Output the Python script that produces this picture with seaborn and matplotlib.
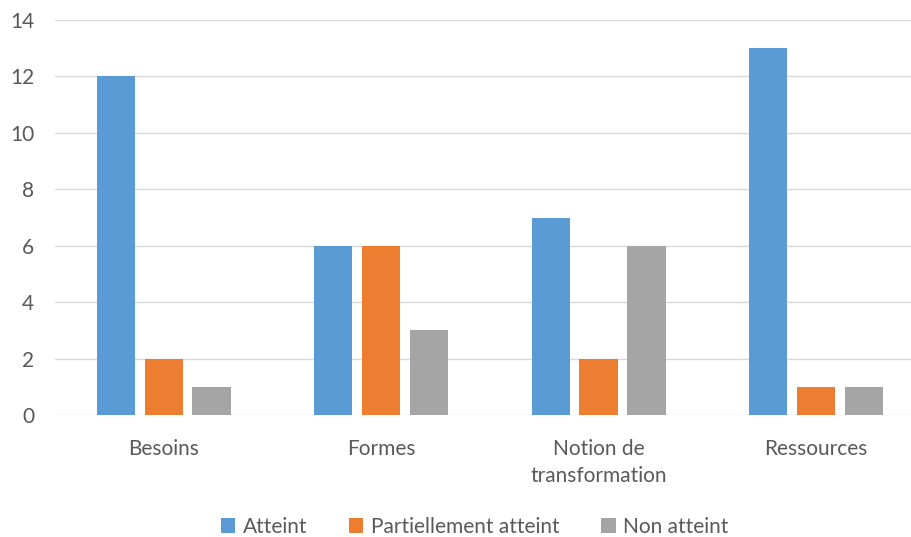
import pandas as pd
import matplotlib.pyplot as plt
import seaborn as sns

categories = ["Besoins", "Formes", "Notion de\ntransformation", "Ressources"]
atteint = [12, 6, 7, 13]
partiel = [2, 6, 2, 1]
non_atteint = [1, 3, 6, 1]
series = ["Atteint", "Partiellement atteint", "Non atteint"]
colors = ["#5B9BD5", "#ED7D31", "#A5A5A5"]

rows = []
for i, cat in enumerate(categories):
    for name, vals in zip(series, [atteint, partiel, non_atteint]):
        rows.append({"cat": cat, "serie": name, "val": vals[i]})
df = pd.DataFrame(rows)

sns.set_style("white")
plt.rcParams['font.family'] = ['Lato', 'DejaVu Sans']

fig = plt.figure(figsize=(9.11, 5.37), dpi=100)
ax = fig.add_axes([55 / 911, 1 - 415 / 537, 856 / 911, 395 / 537])

sns.barplot(data=df, x="cat", y="val", hue="serie", palette=colors,
            width=0.66, gap=0.2, saturation=1, linewidth=0, ax=ax)

ax.set_xlim(-0.5, 3.437)
ax.set_ylim(0, 14)
ax.set_yticks(range(0, 15, 2))
ax.yaxis.grid(True, color="#D9D9D9", linewidth=1)
ax.set_axisbelow(True)
for s in ax.spines.values():
    s.set_visible(False)
ax.set_xlabel("")
ax.set_ylabel("")
ax.tick_params(axis="both", length=0, labelsize=15, labelcolor="#595959")
ax.tick_params(axis="x", pad=17)
ax.tick_params(axis="y", pad=15)
for lab in ax.get_xticklabels():
    lab.set_linespacing(1.45)

ax.legend(loc="center", bbox_to_anchor=(0.49, (415 - 527) / 395), ncol=3, frameon=False,
          fontsize=15, labelcolor="#595959", handlelength=0.7, handleheight=0.7,
          handletextpad=0.35, columnspacing=2.0)

fig.savefig("out.png", dpi=100)
